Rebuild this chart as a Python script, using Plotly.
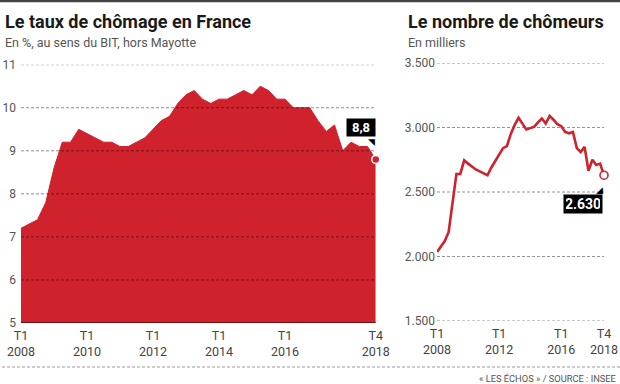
import plotly.graph_objects as go

# ---------------- data ----------------
quarters = [f"T{q} {y}" for y in range(2008, 2019) for q in range(1, 5)]

taux_chomage = [
    7.2, 7.3, 7.4, 7.8,
    8.6, 9.2, 9.2, 9.5,
    9.4, 9.3, 9.2, 9.2,
    9.1, 9.1, 9.2, 9.3,
    9.5, 9.7, 9.8, 10.1,
    10.3, 10.4, 10.2, 10.1,
    10.2, 10.2, 10.3, 10.4,
    10.3, 10.5, 10.4, 10.2,
    10.2, 10.0, 10.0, 10.0,
    9.7, 9.45, 9.6, 9.0,
    9.2, 9.1, 9.1, 8.8,
]

nombre_chomeurs = [
    2035, 2080, 2120, 2190,
    2400, 2640, 2640, 2745,
    2720, 2695, 2675, 2660,
    2645, 2630, 2690, 2740,
    2780, 2840, 2855, 2950,
    3020, 3075, 3030, 2985,
    2995, 3005, 3040, 3070,
    3030, 3090, 3060, 3025,
    3010, 2965, 2955, 2965,
    2840, 2810, 2850, 2665,
    2750, 2710, 2720, 2630,
]

x_tick_vals_left = ["T1 2008", "T1 2010", "T1 2012", "T1 2014", "T1 2016", "T4 2018"]
x_tick_text_left = ["T1<br>2008", "T1<br>2010", "T1<br>2012", "T1<br>2014", "T1<br>2016", "T4<br>2018"]
x_tick_vals_right = ["T1 2008", "T1 2012", "T1 2016", "T4 2018"]
x_tick_text_right = ["T1<br>2008", "T1<br>2012", "T1<br>2016", "T4<br>2018"]

y_ticks_left = [5, 6, 7, 8, 9, 10, 11]
y_ticks_right = [1500, 2000, 2500, 3000, 3500]

label_left = "8,8"
label_right = "2.630"

# ---------------- styling ----------------
W, H = 620, 384
RED = "#d0222d"
FONT = "Roboto"
GRID = "rgba(0,0,0,0.45)"


def px_x(p):
    return p / W


def px_y(p):
    return (H - p) / H


X1 = [px_x(21), px_x(375.75)]
Y1 = [px_y(323), px_y(64.7)]
X2 = [px_x(437), px_x(604)]
Y2 = [px_y(321), px_y(63)]

fig = go.Figure()

fig.add_trace(go.Scatter(
    x=quarters, y=taux_chomage, mode="lines", fill="tozeroy",
    fillcolor=RED, line=dict(color=RED, width=1),
    xaxis="x", yaxis="y", hoverinfo="skip", showlegend=False,
))
fig.add_trace(go.Scatter(
    x=[quarters[-1]], y=[taux_chomage[-1]], mode="markers",
    marker=dict(color=RED, size=8, line=dict(color="white", width=1.5)),
    xaxis="x", yaxis="y", hoverinfo="skip", showlegend=False, cliponaxis=False,
))

fig.add_trace(go.Scatter(
    x=quarters, y=nombre_chomeurs, mode="lines",
    line=dict(color=RED, width=2.6),
    xaxis="x2", yaxis="y2", hoverinfo="skip", showlegend=False,
))
fig.add_trace(go.Scatter(
    x=[quarters[-1]], y=[nombre_chomeurs[-1]], mode="markers",
    marker=dict(color="white", size=8, line=dict(color=RED, width=1.6)),
    xaxis="x2", yaxis="y2", hoverinfo="skip", showlegend=False, cliponaxis=False,
))

tickfont_y = dict(family=FONT, size=12, color="#555")
tickfont_x = dict(family=FONT, size=12.5, color="#444")

fig.update_layout(
    width=W, height=H,
    margin=dict(l=0, r=0, t=0, b=0, autoexpand=False),
    paper_bgcolor="white", plot_bgcolor="white",
    separators=",.",
    xaxis=dict(
        domain=X1, type="category",
        categoryorder="array", categoryarray=quarters,
        range=[0, len(quarters) - 1],
        tickvals=x_tick_vals_left, ticktext=x_tick_text_left,
        showgrid=False, zeroline=False, showline=False, ticks="",
        ticklabelstandoff=3,
        tickfont=tickfont_x, anchor="y", fixedrange=True, automargin=False,
    ),
    yaxis=dict(
        domain=Y1, range=[5, 11],
        tickvals=y_ticks_left, showgrid=False, zeroline=False,
        showline=False, ticks="", tickfont=tickfont_y,
        ticklabelstandoff=4,
        anchor="x", fixedrange=True, automargin=False,
    ),
    xaxis2=dict(
        domain=X2, type="category",
        categoryorder="array", categoryarray=quarters,
        range=[0, len(quarters) - 1],
        tickvals=x_tick_vals_right, ticktext=x_tick_text_right,
        showgrid=False, zeroline=False, showline=False, ticks="",
        ticklabelstandoff=3,
        tickfont=tickfont_x, anchor="y2", fixedrange=True, automargin=False,
    ),
    yaxis2=dict(
        domain=Y2, range=[1500, 3500],
        tickvals=y_ticks_right, tickformat=",d", showgrid=False,
        zeroline=False, showline=False, ticks="", tickfont=tickfont_y,
        ticklabelstandoff=1,
        anchor="x2", fixedrange=True, automargin=False,
    ),
)

shapes = []
for v in y_ticks_left[1:]:
    shapes.append(dict(type="line", xref="paper", x0=X1[0], x1=X1[1], yref="y", y0=v, y1=v,
                       line=dict(color=GRID, width=1, dash="3px,2px"), layer="above"))
shapes.append(dict(type="line", xref="paper", x0=X1[0], x1=X1[1], yref="y", y0=5, y1=5,
                   line=dict(color="#4a0d10", width=1.5), layer="above"))
for v in y_ticks_right:
    shapes.append(dict(type="line", xref="paper", x0=X2[0], x1=X2[1], yref="y2", y0=v, y1=v,
                       line=dict(color="rgba(0,0,0,0.42)", width=1, dash="3px,2px"), layer="below"))
# top bar and bottom separator
shapes.append(dict(type="line", xref="paper", x0=0, x1=1, yref="paper", y0=px_y(1), y1=px_y(1),
                   line=dict(color="#444", width=2.5)))
shapes.append(dict(type="line", xref="paper", x0=px_x(2), x1=1, yref="paper", y0=px_y(367), y1=px_y(367),
                   line=dict(color="#999", width=1, dash="3px,2px")))
fig.update_layout(shapes=shapes)

annotations = [
    dict(text="<b>Le taux de chômage en France</b>", xref="paper", yref="paper",
         x=px_x(3), y=px_y(22), xanchor="left", yanchor="middle", showarrow=False,
         font=dict(family=FONT, size=18, color="#1a1a1a")),
    dict(text="En %, au sens du BIT, hors Mayotte", xref="paper", yref="paper",
         x=px_x(3), y=px_y(43), xanchor="left", yanchor="middle", showarrow=False,
         font=dict(family=FONT, size=12.5, color="#555")),
    dict(text="<b>Le nombre de chômeurs</b>", xref="paper", yref="paper",
         x=px_x(406), y=px_y(22), xanchor="left", yanchor="middle", showarrow=False,
         font=dict(family=FONT, size=18, color="#1a1a1a")),
    dict(text="En milliers", xref="paper", yref="paper",
         x=px_x(406), y=px_y(43), xanchor="left", yanchor="middle", showarrow=False,
         font=dict(family=FONT, size=12.5, color="#555")),
    dict(text="« LES ÉCHOS » / SOURCE : INSEE", xref="paper", yref="paper",
         x=px_x(618), y=px_y(378), xanchor="right", yanchor="middle", showarrow=False,
         font=dict(family=FONT, size=9.3, color="#555")),
    # value labels
    dict(text=f"<b>{label_left}</b>", xref="x", yref="y",
         x=quarters[-1], y=taux_chomage[-1], xanchor="right", yanchor="bottom",
         yshift=22, showarrow=False, bgcolor="black", borderpad=2,
         width=24, height=13,
         font=dict(family=FONT, size=13, color="white")),
    dict(text="◥", xref="x", yref="y",
         x=quarters[-1], y=taux_chomage[-1], xanchor="right", yanchor="top",
         yshift=24, xshift=1, showarrow=False,
         font=dict(family="DejaVu Sans", size=9, color="black")),
    dict(text=f"<b>{label_right}</b>", xref="x2", yref="y2",
         x=quarters[-1], y=nombre_chomeurs[-1], xanchor="right", yanchor="top",
         yshift=-19, xshift=-1, showarrow=False, bgcolor="black", borderpad=2,
         width=34, height=14,
         font=dict(family=FONT, size=14, color="white")),
    dict(text="◢", xref="x2", yref="y2",
         x=quarters[-1], y=nombre_chomeurs[-1], xanchor="right", yanchor="bottom",
         yshift=-22, xshift=1, showarrow=False,
         font=dict(family="DejaVu Sans", size=9, color="black")),
]
fig.update_layout(annotations=annotations)

fig.write_html(
    "out.html",
    config={"displayModeBar": False},
    post_script="document.body.style.margin='0';document.body.style.padding='0';",
)
